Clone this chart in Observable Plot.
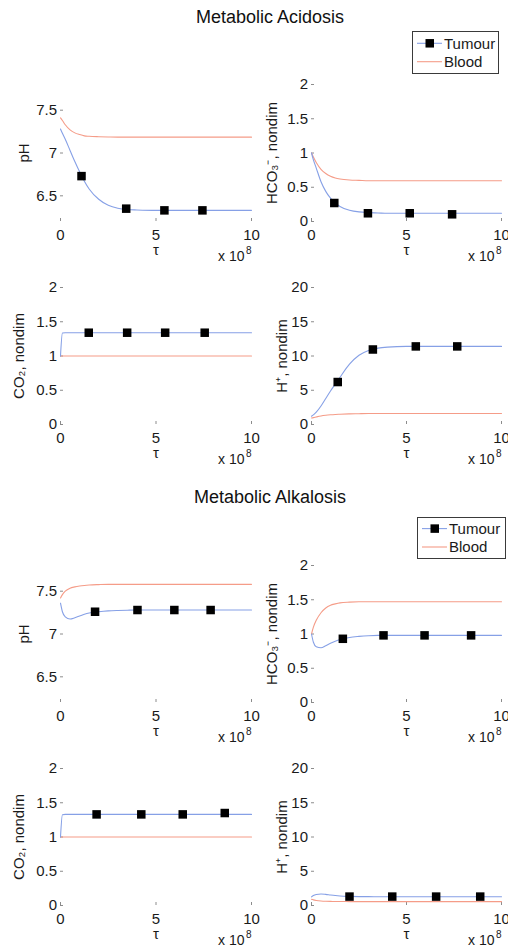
<!DOCTYPE html>
<html><head><meta charset="utf-8">
<script src="https://cdn.jsdelivr.net/npm/d3@7"></script>
<script src="https://cdn.jsdelivr.net/npm/@observablehq/plot@0.6"></script>
<style>
body{margin:0;background:#fff;font-family:"Liberation Sans",Arial,sans-serif;}
#chart{position:relative;width:508px;height:950px;overflow:hidden;background:#fff;}
.title{position:absolute;left:0;width:540px;text-align:center;font-size:18px;color:#111;line-height:20px;}
.panel{position:absolute;}
.legend{position:absolute;}
</style></head><body><div id="chart"></div><script>
// ---- data ----
const tau = [0, 0.1, 0.25, 0.5, 0.75, 1, 1.25, 1.5, 2, 2.5, 3, 3.5, 4, 5, 6, 7, 8, 9, 10];

// Metabolic acidosis
const acidPhTumour   = [7.28, 7.23, 7.16, 7.03, 6.90, 6.78, 6.67, 6.58, 6.46, 6.39, 6.355, 6.34, 6.335, 6.33, 6.33, 6.33, 6.33, 6.33, 6.33];
const acidPhBlood    = [7.41, 7.38, 7.33, 7.27, 7.235, 7.215, 7.20, 7.195, 7.19, 7.187, 7.185, 7.185, 7.185, 7.185, 7.185, 7.185, 7.185, 7.185, 7.185];
const acidHco3Tumour = [1.0, 0.90, 0.78, 0.58, 0.44, 0.34, 0.27, 0.22, 0.165, 0.14, 0.13, 0.125, 0.12, 0.12, 0.12, 0.12, 0.12, 0.12, 0.12];
const acidHco3Blood  = [1.0, 0.94, 0.86, 0.76, 0.70, 0.66, 0.635, 0.62, 0.605, 0.60, 0.595, 0.595, 0.595, 0.595, 0.595, 0.595, 0.595, 0.595, 0.595];
const acidCo2Tumour  = [1.0, 1.335, 1.34, 1.34, 1.34, 1.34, 1.34, 1.34, 1.34, 1.34, 1.34, 1.34, 1.34, 1.34, 1.34, 1.34, 1.34, 1.34, 1.34];
const acidCo2Blood   = [1.0, 1.0, 1.0, 1.0, 1.0, 1.0, 1.0, 1.0, 1.0, 1.0, 1.0, 1.0, 1.0, 1.0, 1.0, 1.0, 1.0, 1.0, 1.0];
const acidHTumour    = [1.2, 1.4, 1.8, 2.7, 3.8, 4.9, 5.9, 6.9, 8.8, 10.1, 10.8, 11.15, 11.3, 11.4, 11.4, 11.4, 11.4, 11.4, 11.4];
const acidHBlood     = [0.95, 1.0, 1.1, 1.25, 1.35, 1.42, 1.47, 1.5, 1.55, 1.58, 1.6, 1.6, 1.6, 1.6, 1.6, 1.6, 1.6, 1.6, 1.6];

// Metabolic alkalosis
const alkPhTumour    = [7.36, 7.26, 7.20, 7.175, 7.19, 7.21, 7.23, 7.245, 7.26, 7.27, 7.275, 7.278, 7.28, 7.28, 7.28, 7.28, 7.28, 7.28, 7.28];
const alkPhBlood     = [7.42, 7.46, 7.50, 7.535, 7.55, 7.56, 7.567, 7.572, 7.577, 7.58, 7.58, 7.58, 7.58, 7.58, 7.58, 7.58, 7.58, 7.58, 7.58];
const alkHco3Tumour  = [1.0, 0.88, 0.815, 0.80, 0.83, 0.865, 0.895, 0.92, 0.95, 0.965, 0.975, 0.98, 0.98, 0.98, 0.98, 0.98, 0.98, 0.98, 0.98];
const alkHco3Blood   = [1.0, 1.10, 1.20, 1.31, 1.38, 1.42, 1.44, 1.455, 1.465, 1.47, 1.47, 1.47, 1.47, 1.47, 1.47, 1.47, 1.47, 1.47, 1.47];
const alkCo2Tumour   = [1.0, 1.325, 1.33, 1.33, 1.33, 1.33, 1.33, 1.33, 1.33, 1.33, 1.33, 1.33, 1.33, 1.33, 1.33, 1.33, 1.33, 1.33, 1.33];
const alkCo2Blood    = [1.0, 1.0, 1.0, 1.0, 1.0, 1.0, 1.0, 1.0, 1.0, 1.0, 1.0, 1.0, 1.0, 1.0, 1.0, 1.0, 1.0, 1.0, 1.0];
const alkHTumour     = [1.25, 1.45, 1.6, 1.68, 1.62, 1.53, 1.45, 1.39, 1.33, 1.30, 1.29, 1.28, 1.28, 1.28, 1.28, 1.28, 1.28, 1.28, 1.28];
const alkHBlood      = [0.9, 0.82, 0.74, 0.66, 0.62, 0.60, 0.59, 0.58, 0.57, 0.56, 0.56, 0.56, 0.56, 0.56, 0.56, 0.56, 0.56, 0.56, 0.56];

// Tumour markers (τ, value)
const acidPhMarkTau = [1.1, 3.44, 5.44, 7.43],   acidPhMarkVal = [6.73, 6.35, 6.33, 6.33];
const acidHco3MarkTau = [1.2, 2.97, 5.17, 7.4],  acidHco3MarkVal = [0.27, 0.12, 0.12, 0.105];
const acidCo2MarkTau = [1.48, 3.49, 5.48, 7.55], acidCo2MarkVal = [1.34, 1.34, 1.34, 1.34];
const acidHMarkTau = [1.38, 3.23, 5.49, 7.67],   acidHMarkVal = [6.2, 10.95, 11.4, 11.4];
const alkPhMarkTau = [1.81, 4.03, 5.96, 7.86],   alkPhMarkVal = [7.26, 7.28, 7.28, 7.28];
const alkHco3MarkTau = [1.65, 3.79, 5.95, 8.4],  alkHco3MarkVal = [0.93, 0.98, 0.98, 0.98];
const alkCo2MarkTau = [1.89, 4.23, 6.4, 8.6],    alkCo2MarkVal = [1.33, 1.33, 1.33, 1.35];
const alkHMarkTau = [2.0, 4.25, 6.56, 8.88],     alkHMarkVal = [1.3, 1.3, 1.3, 1.3];

// ticks & labels
const xTicks = [0, 5, 10];
const xLabel = "τ";
const xExpBase = "x 10", xExpPow = "8";
const phTicks = [6.5, 7, 7.5];
const unitTicks = [0, 0.5, 1, 1.5, 2];
const hTicks = [0, 5, 10, 15, 20];
const titles = ["Metabolic Acidosis", "Metabolic Alkalosis"];
const seriesNames = ["Tumour", "Blood"];

// ---- style ----
const tumourColor = "#86a0e6";
const bloodColor = "#f59c88";
const axisColor = "#8c8c8c";
const textColor = "#1a1a1a";
const font = "'Liberation Sans', Arial, sans-serif";
const fs = 15;

const chart = document.getElementById("chart");

function panel(o) {
  const left = o.col === 0 ? 0 : 254;
  const width = o.col === 0 ? 262 : 254;
  const marginLeft = o.col === 0 ? 60 : 57;
  const frameW = o.col === 0 ? 191 : 190;
  const marginRight = width - marginLeft - frameW;
  const marginTop = 10, frameH = 137, marginBottom = 48;
  const tumourRows = tau.map((t, i) => ({t, v: o.tumour[i]}));
  const bloodRows = tau.map((t, i) => ({t, v: o.blood[i]}));
  const markRows = o.mTau.map((t, i) => ({t, v: o.mVal[i]}));
  const svg = Plot.plot({
    width, height: marginTop + frameH + marginBottom,
    marginLeft, marginRight, marginTop, marginBottom,
    style: {fontFamily: font, fontSize: fs + "px", color: textColor, background: "transparent", overflow: "visible"},
    x: {domain: [0, 10]},
    y: {domain: o.yDomain},
    marks: [
      Plot.axisY({ticks: o.yTicks, tickFormat: d => `${d}`, tickSize: -3, tickPadding: 6.5, stroke: axisColor, fill: textColor, fontSize: fs,
        line: true, label: o.yLabel, labelAnchor: "center", labelArrow: "none", labelOffset: o.labelOffset}),
      Plot.axisX({ticks: xTicks, tickFormat: d => `${d}`, tickSize: -3, tickPadding: 11, stroke: axisColor, fill: textColor, fontSize: fs,
        line: true, label: xLabel, labelAnchor: "center", labelArrow: "none", labelOffset: 33}),
      Plot.line(bloodRows, {x: "t", y: "v", stroke: bloodColor, strokeWidth: 1.1, curve: "monotone-x"}),
      Plot.line(tumourRows, {x: "t", y: "v", stroke: tumourColor, strokeWidth: 1.1, curve: "monotone-x"}),
      Plot.dot(markRows, {x: "t", y: "v", symbol: "square", r: 4.8, fill: "black", stroke: null}),
      Plot.text([xExpBase], {frameAnchor: "bottom-right", text: d => d, dx: -7, dy: 39, textAnchor: "end", fill: textColor, fontSize: 14}),
      Plot.text([xExpPow], {frameAnchor: "bottom-right", text: d => d, dx: 0, dy: 32, textAnchor: "end", fill: textColor, fontSize: 10})
    ]
  });
  svg.classList.add("panel");
  svg.style.position = "absolute";
  svg.style.left = left + "px";
  svg.style.top = (o.frameTop - marginTop) + "px";
  chart.appendChild(svg);
}

function title(text, top) {
  const d = document.createElement("div");
  d.className = "title";
  d.style.top = top + "px";
  d.textContent = text;
  chart.appendChild(d);
}

function legend(left, top, w, h, rowY) {
  const s = d3.create("svg").attr("class", "legend").attr("width", w).attr("height", h)
    .style("left", left + "px").style("top", top + "px").style("position", "absolute")
    .style("font-family", font).style("font-size", fs + "px");
  s.append("rect").attr("x", 0.5).attr("y", 0.5).attr("width", w - 1).attr("height", h - 1)
    .attr("fill", "white").attr("stroke", "#3a3a3a").attr("stroke-width", 1);
  const colors = [tumourColor, bloodColor];
  seriesNames.forEach((name, i) => {
    const y = rowY[i];
    s.append("line").attr("x1", 5).attr("x2", 30).attr("y1", y).attr("y2", y)
      .attr("stroke", colors[i]).attr("stroke-width", 1.1);
    if (i === 0) s.append("rect").attr("x", 13.5).attr("y", y - 4.25).attr("width", 8.5).attr("height", 8.5).attr("fill", "black");
    s.append("text").attr("x", 32).attr("y", y).attr("dy", "0.35em").attr("fill", textColor).text(name);
  });
  chart.appendChild(s.node());
}

title(titles[0], 7);
panel({col: 0, frameTop: 84, yDomain: [6.2, 7.8], yTicks: phTicks, yLabel: "pH", labelOffset: 42, tumour: acidPhTumour, blood: acidPhBlood, mTau: acidPhMarkTau, mVal: acidPhMarkVal});
panel({col: 1, frameTop: 84, yDomain: [0, 2], yTicks: unitTicks, yLabel: "HCO₃⁻, nondim", labelOffset: 45, tumour: acidHco3Tumour, blood: acidHco3Blood, mTau: acidHco3MarkTau, mVal: acidHco3MarkVal});
panel({col: 0, frameTop: 287, yDomain: [0, 2], yTicks: unitTicks, yLabel: "CO₂, nondim", labelOffset: 47, tumour: acidCo2Tumour, blood: acidCo2Blood, mTau: acidCo2MarkTau, mVal: acidCo2MarkVal});
panel({col: 1, frameTop: 287, yDomain: [0, 20], yTicks: hTicks, yLabel: "H⁺, nondim", labelOffset: 35, tumour: acidHTumour, blood: acidHBlood, mTau: acidHMarkTau, mVal: acidHMarkVal});
legend(412, 31, 87, 43, [12.3, 30.7]);

title(titles[1], 487);
panel({col: 0, frameTop: 565, yDomain: [6.2, 7.8], yTicks: phTicks, yLabel: "pH", labelOffset: 42, tumour: alkPhTumour, blood: alkPhBlood, mTau: alkPhMarkTau, mVal: alkPhMarkVal});
panel({col: 1, frameTop: 565, yDomain: [0, 2], yTicks: unitTicks, yLabel: "HCO₃⁻, nondim", labelOffset: 45, tumour: alkHco3Tumour, blood: alkHco3Blood, mTau: alkHco3MarkTau, mVal: alkHco3MarkVal});
panel({col: 0, frameTop: 768, yDomain: [0, 2], yTicks: unitTicks, yLabel: "CO₂, nondim", labelOffset: 47, tumour: alkCo2Tumour, blood: alkCo2Blood, mTau: alkCo2MarkTau, mVal: alkCo2MarkVal});
panel({col: 1, frameTop: 768, yDomain: [0, 20], yTicks: hTicks, yLabel: "H⁺, nondim", labelOffset: 35, tumour: alkHTumour, blood: alkHBlood, mTau: alkHMarkTau, mVal: alkHMarkVal});
legend(417, 517, 89, 42, [11.6, 30]);
</script></body></html>
